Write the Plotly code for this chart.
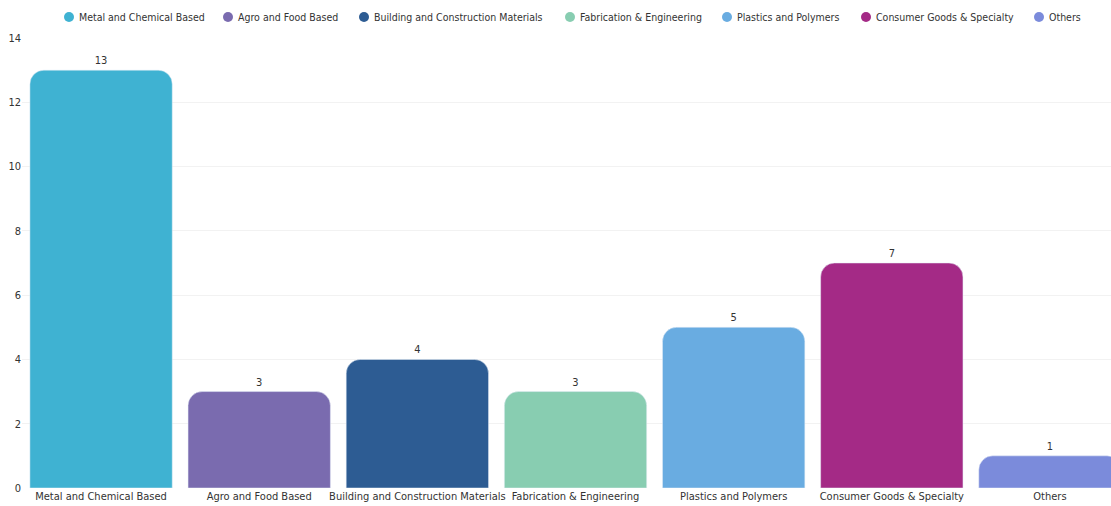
import plotly.graph_objects as go

categories = [
    "Metal and Chemical Based",
    "Agro and Food Based",
    "Building and Construction Materials",
    "Fabrication & Engineering",
    "Plastics and Polymers",
    "Consumer Goods & Specialty",
    "Others",
]
counts = [13, 3, 4, 3, 5, 7, 1]
colors = ["#3FB2D2", "#7A6BAF", "#2D5C93", "#88CDB1", "#69ACE1", "#A42A86", "#7B8BDB"]

FONT = "Liberation Sans Narrow, DejaVu Sans Condensed, sans-serif"
W, H = 1111, 506
ML, MR, MT, MB = 22, 0, 38, 18
PW, PH = W - ML - MR, H - MT - MB

# legend swatch centres (pixels from the left edge of the page)
legend_px = [69, 228, 364, 570, 727, 866, 1039]
legend_y_px = 17

fig = go.Figure()
for cat, val, col in zip(categories, counts, colors):
    fig.add_trace(go.Bar(
        x=[cat], y=[val], name=cat, marker_color=col,
        text=[str(val)], textposition="outside",
        textfont=dict(size=11, color="#333333"),
        showlegend=False, cliponaxis=False,
    ))

# top legend: circular swatch + label per category
ly = (H - MB - legend_y_px) / PH
for cat, col, px in zip(categories, colors, legend_px):
    lx = (px - ML) / PW
    fig.add_shape(type="circle", xref="paper", yref="paper",
                  xsizemode="pixel", ysizemode="pixel",
                  xanchor=lx, yanchor=ly, x0=-5, x1=5, y0=-5, y1=5,
                  fillcolor=col, line=dict(width=0))
    fig.add_annotation(x=(px + 8 - ML) / PW, y=ly, xref="paper", yref="paper",
                       text=cat, showarrow=False, xanchor="left", yanchor="middle",
                       font=dict(size=10.5, color="#333333"))

fig.update_layout(
    width=W, height=H,
    margin=dict(l=ML, r=MR, t=MT, b=MB),
    paper_bgcolor="white", plot_bgcolor="white",
    font=dict(family=FONT, size=11, color="#333333"),
    barmode="overlay", bargap=0.1, barcornerradius=14,
    showlegend=False,
    xaxis=dict(type="category", categoryorder="array", categoryarray=categories,
               range=[-0.5, 6.386], showgrid=False, showline=False, ticks="",
               tickfont=dict(size=11, color="#333333")),
    yaxis=dict(range=[0, 14], dtick=2, showgrid=True, gridcolor="#F2F2F2",
               zeroline=False, showline=False, ticks="",
               tickfont=dict(size=11, color="#333333")),
)

fig.write_html("out.html")
